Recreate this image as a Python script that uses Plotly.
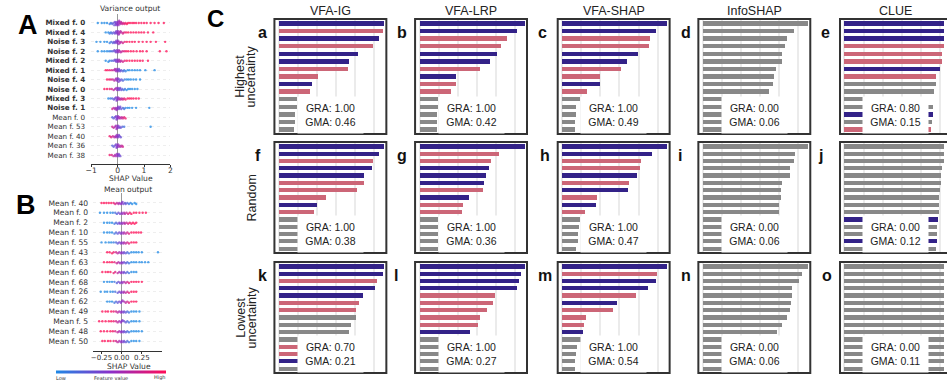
import plotly.graph_objects as go

W, H = 947, 381
def fx(x): return x / W
def fy(y): return 1 - y / H

# ---------------- Panel A: Variance output (SHAP beeswarm) ----------------
A_labels = ["Mixed f. 0", "Mixed f. 4", "Noise f. 3", "Noise f. 2", "Mixed f. 2",
            "Mixed f. 1", "Noise f. 4", "Noise f. 0", "Mixed f. 3", "Noise f. 1",
            "Mean f. 0", "Mean f. 53", "Mean f. 40", "Mean f. 36", "Mean f. 38"]
A_shap = [
    [-0.75, -0.6, -0.5, -0.4, -0.3, -0.25, -0.2, -0.16, -0.12, -0.1, -0.08, -0.06, -0.04, -0.02, 0.0, 0.01, 0.03, 0.05, 0.06, 0.08, 0.1, 0.13, 0.15, 0.18, 0.22, 0.26, 0.3, 0.35, 0.4, 0.47, 0.55, 0.62, 0.7, 0.8, 0.9, 1.0, 1.1, 1.25, 1.4, 1.55, 1.75],
    [-0.45, -0.35, -0.3, -0.25, -0.2, -0.15, -0.1, -0.07, -0.05, -0.02, 0.0, 0.02, 0.04, 0.06, 0.08, 0.11, 0.15, 0.2, 0.25, 0.32, 0.4, 0.5, 0.6, 0.7, 0.8, 0.9, 1.0, 1.15, 1.35],
    [-0.8, -0.65, -0.5, -0.4, -0.3, -0.24, -0.18, -0.14, -0.1, -0.07, -0.05, -0.02, 0.0, 0.02, 0.04, 0.07, 0.1, 0.14, 0.2, 0.27, 0.35, 0.45, 0.55, 0.65, 0.8, 0.95, 1.1, 1.25, 1.45, 1.8],
    [-0.75, -0.6, -0.5, -0.4, -0.32, -0.25, -0.18, -0.12, -0.09, -0.06, -0.03, 0.0, 0.02, 0.05, 0.08, 0.12, 0.18, 0.25, 0.32, 0.4, 0.5, 0.6, 0.72, 0.85, 0.95, 1.1, 1.6, 1.85],
    [-0.45, -0.35, -0.3, -0.22, -0.15, -0.1, -0.08, -0.05, -0.03, 0.0, 0.02, 0.05, 0.07, 0.1, 0.14, 0.2, 0.27, 0.35, 0.45, 0.55, 0.65, 0.75, 0.85, 0.95, 1.15],
    [-0.45, -0.38, -0.3, -0.22, -0.15, -0.1, -0.08, -0.05, -0.03, 0.0, 0.02, 0.05, 0.07, 0.1, 0.14, 0.2, 0.25, 0.3, 0.38, 0.45, 0.55, 0.65, 0.75, 0.85, 1.05, 1.4],
    [-0.4, -0.32, -0.25, -0.18, -0.12, -0.08, -0.05, -0.02, 0.0, 0.02, 0.04, 0.07, 0.1, 0.15, 0.2, 0.27, 0.35, 0.42, 0.5, 0.6, 0.7, 0.85],
    [-0.5, -0.4, -0.3, -0.22, -0.15, -0.1, -0.05, -0.02, 0.0, 0.02, 0.05, 0.08, 0.1, 0.14, 0.18, 0.23, 0.28, 0.34, 0.4, 0.47, 0.55, 0.65, 0.75],
    [-0.35, -0.27, -0.2, -0.14, -0.1, -0.06, -0.04, -0.02, 0.0, 0.02, 0.05, 0.08, 0.12, 0.16, 0.2, 0.25, 0.3, 0.38, 0.45, 0.52, 0.6, 0.7, 0.8],
    [-0.2, -0.15, -0.1, -0.07, -0.04, -0.02, 0.0, 0.02, 0.05, 0.08, 0.1, 0.14, 0.2, 0.25, 0.3, 0.38, 0.45, 0.55, 0.7, 1.2],
    [-0.2, -0.15, -0.1, -0.06, -0.04, -0.02, 0.0, 0.02, 0.05, 0.08, 0.12, 0.16, 0.2, 0.25, 0.3],
    [-0.2, -0.15, -0.1, -0.06, -0.04, -0.02, 0.0, 0.02, 0.05, 0.08, 0.12, 0.18, 0.25, 1.25],
    [-0.3, -0.24, -0.18, -0.12, -0.08, -0.05, -0.03, 0.0, 0.02, 0.05, 0.08, 0.12],
    [-0.2, -0.15, -0.1, -0.06, -0.04, -0.02, 0.0, 0.02, 0.05, 0.08, 0.12, 0.16, 0.2],
    [-0.3, -0.22, -0.15, -0.1, -0.06, -0.03, 0.0, 0.02, 0.04, 0.07, 0.1],
]
A_sign = [1, 1, 1, 1, 1, -1, -1, -1, 1, -1, 1, -1, -1, 1, -1]

# ---------------- Panel B: Mean output ----------------
B_labels = ["Mean f. 40", "Mean f. 0", "Mean f. 2", "Mean f. 10", "Mean f. 55",
            "Mean f. 43", "Mean f. 63", "Mean f. 60", "Mean f. 68", "Mean f. 26",
            "Mean f. 62", "Mean f. 49", "Mean f. 5", "Mean f. 48", "Mean f. 50"]
B_shap = [
    [-0.25, -0.22, -0.19, -0.16, -0.13, -0.1, -0.08, -0.06, -0.04, -0.03, -0.01, 0.0, 0.01, 0.02, 0.04, 0.05, 0.07, 0.09, 0.11, 0.13, 0.16, 0.18],
    [-0.27, -0.22, -0.18, -0.14, -0.11, -0.08, -0.06, -0.04, -0.02, 0.0, 0.01, 0.03, 0.04, 0.06, 0.08, 0.1, 0.12, 0.15, 0.18, 0.22, 0.26, 0.3],
    [-0.22, -0.18, -0.15, -0.12, -0.09, -0.07, -0.05, -0.03, -0.02, 0.0, 0.01, 0.03, 0.04, 0.06, 0.08, 0.1, 0.12, 0.14, 0.16, 0.18],
    [-0.22, -0.18, -0.15, -0.12, -0.09, -0.07, -0.05, -0.03, -0.01, 0.0, 0.02, 0.03, 0.05, 0.07, 0.09, 0.12, 0.15, 0.18, 0.21, 0.24],
    [-0.25, -0.2, -0.16, -0.13, -0.1, -0.07, -0.05, -0.03, -0.01, 0.0, 0.02, 0.03, 0.05, 0.07, 0.09, 0.12, 0.15, 0.18],
    [-0.18, -0.15, -0.12, -0.1, -0.07, -0.05, -0.03, -0.01, 0.0, 0.02, 0.03, 0.05, 0.07, 0.09, 0.12, 0.15, 0.18, 0.21, 0.25, 0.45],
    [-0.22, -0.18, -0.15, -0.12, -0.09, -0.06, -0.04, -0.02, 0.0, 0.01, 0.03, 0.05, 0.07, 0.09, 0.12, 0.15, 0.18, 0.22, 0.25, 0.29, 0.33],
    [-0.24, -0.2, -0.17, -0.14, -0.1, -0.08, -0.05, -0.03, -0.01, 0.0, 0.02, 0.03, 0.05, 0.07, 0.09, 0.12, 0.15, 0.18],
    [-0.22, -0.18, -0.15, -0.12, -0.09, -0.06, -0.04, -0.02, 0.0, 0.01, 0.03, 0.05, 0.07, 0.09, 0.12, 0.15, 0.18, 0.21, 0.25],
    [-0.26, -0.21, -0.18, -0.14, -0.11, -0.08, -0.05, -0.03, -0.01, 0.0, 0.02, 0.03, 0.05, 0.07, 0.09, 0.12, 0.15, 0.18],
    [-0.18, -0.15, -0.12, -0.09, -0.07, -0.05, -0.03, -0.01, 0.0, 0.01, 0.03, 0.05, 0.07, 0.09, 0.12, 0.15, 0.18],
    [-0.24, -0.2, -0.17, -0.13, -0.1, -0.07, -0.05, -0.03, -0.01, 0.0, 0.02, 0.03, 0.05, 0.07, 0.09, 0.12, 0.15, 0.18, 0.22],
    [-0.28, -0.24, -0.2, -0.16, -0.13, -0.1, -0.07, -0.05, -0.03, -0.01, 0.0, 0.01, 0.03, 0.05, 0.07, 0.09, 0.12, 0.15, 0.18, 0.22],
    [-0.26, -0.22, -0.18, -0.14, -0.11, -0.08, -0.05, -0.03, -0.01, 0.0, 0.02, 0.03, 0.05, 0.07, 0.09, 0.12, 0.15, 0.18, 0.21, 0.25],
    [-0.24, -0.21, -0.17, -0.14, -0.1, -0.07, -0.05, -0.03, -0.01, 0.0, 0.02, 0.03, 0.05, 0.07, 0.09, 0.12, 0.15, 0.18, 0.22],
]
B_sign = [-1, 1, 1, 1, 1, -1, -1, -1, 1, 1, 1, -1, -1, -1, -1]

# ---------------- Panel C: attribution bar charts ----------------
C_methods = ["VFA-IG", "VFA-LRP", "VFA-SHAP", "InfoSHAP", "CLUE"]
C_letters = ["a", "b", "c", "d", "e", "f", "g", "h", "i", "j", "k", "l", "m", "n", "o"]
C_values = [
    [1.0, 0.99, 0.95, 0.90, 0.755, 0.67, 0.66, 0.37, 0.32, 0.30, 0.17, 0.17, 0.15, 0.15, 0.14],
    [1.0, 0.93, 0.83, 0.78, 0.74, 0.67, 0.58, 0.35, 0.35, 0.30, 0.18, 0.18, 0.17, 0.17, 0.17],
    [1.0, 0.89, 0.84, 0.83, 0.72, 0.62, 0.56, 0.36, 0.36, 0.24, 0.17, 0.13, 0.13, 0.12, 0.12],
    [1.0, 0.87, 0.80, 0.78, 0.75, 0.75, 0.70, 0.68, 0.67, 0.63, 0.62, 0.61, 0.60, 0.59, 0.58],
    [1.0, 1.0, 0.99, 0.98, 0.93, 0.93, 0.91, 0.87, 0.87, 0.855, 0.80, 0.845, 0.84, 0.83, 0.82],
    [1.0, 0.955, 0.90, 0.885, 0.81, 0.81, 0.74, 0.45, 0.365, 0.33, 0.19, 0.19, 0.19, 0.19, 0.19],
    [1.0, 0.76, 0.68, 0.66, 0.63, 0.61, 0.60, 0.47, 0.41, 0.40, 0.18, 0.18, 0.18, 0.18, 0.18],
    [1.0, 0.855, 0.755, 0.745, 0.715, 0.64, 0.63, 0.33, 0.32, 0.22, 0.17, 0.16, 0.15, 0.15, 0.13],
    [1.0, 0.88, 0.87, 0.83, 0.83, 0.75, 0.74, 0.74, 0.73, 0.73, 0.65, 0.64, 0.63, 0.62, 0.61],
    [1.0, 1.0, 0.99, 0.93, 0.915, 0.915, 0.91, 0.90, 0.90, 0.90, 0.89, 0.88, 0.88, 0.88, 0.87],
    [1.0, 0.99, 0.93, 0.92, 0.80, 0.76, 0.73, 0.73, 0.685, 0.67, 0.62, 0.60, 0.58, 0.56, 0.55],
    [1.0, 0.97, 0.95, 0.93, 0.72, 0.70, 0.64, 0.575, 0.56, 0.48, 0.19, 0.19, 0.19, 0.19, 0.19],
    [1.0, 0.90, 0.89, 0.82, 0.70, 0.52, 0.48, 0.23, 0.21, 0.195, 0.18, 0.14, 0.13, 0.125, 0.12],
    [1.0, 0.94, 0.92, 0.85, 0.85, 0.84, 0.83, 0.80, 0.755, 0.71, 0.68, 0.66, 0.65, 0.64, 0.63],
    [1.0, 1.0, 0.99, 0.99, 0.98, 0.98, 0.98, 0.97, 0.97, 0.97, 0.96, 0.96, 0.96, 0.95, 0.95],
]
C_kinds = [
    "bpbpbbppbpggggg", "bbppbbpbppggggg", "bbppbbppbpggggg", "ggggggggggggggg", "bbbpppbpggggbgp",
    "bbpbbpppbpggggg", "bppbbbpbppggggg", "bbppbpbpbpggggg", "ggggggggggggggg", "ggggggggggbggbg",
    "bbpbbppggggppbg", "bbbbpppppbggggg", "bpbbpbpppbggggg", "ggggggggggggggg", "ggggggggggggggg",
]
C_gra = ["1.00", "1.00", "1.00", "0.00", "0.80", "1.00", "1.00", "1.00", "0.00", "0.00",
         "0.70", "1.00", "1.00", "0.00", "0.00"]
C_gma = ["0.46", "0.42", "0.49", "0.06", "0.15", "0.38", "0.36", "0.47", "0.06", "0.12",
         "0.21", "0.27", "0.54", "0.06", "0.11"]

KIND_COLOR = {"b": "#332288", "p": "#CC6677", "g": "#888888"}
SHAP_SCALE = [[0.0, "#1E88E5"], [0.5, "#8B2FC9"], [1.0, "#FF0D57"]]
SANS = "Liberation Sans, Arial, sans-serif"
DJ = "DejaVu Sans, sans-serif"


def swarm(xs, ppu, rowpx, d=1.8, step=1.1):
    """Beeswarm vertical layout (in row units) computed from x positions."""
    order = sorted(range(len(xs)), key=lambda i: abs(xs[i]))
    placed, off = [], [0.0] * len(xs)
    for i in order:
        p = xs[i] * ppu
        kk = 0
        for k in (0, 1, -1, 2, -2, 3, -3):
            if all(l != k or abs(p - q) >= d for q, l in placed):
                kk = k
                break
        placed.append((p, kk))
        off[i] = kk * step / rowpx
    return off


fig = go.Figure()
layout = {}
annotations = []
shapes = []


def beeswarm(axn, shap, signs, ppu, rowpx, scale):
    xs, ys, cs = [], [], []
    for r, (vals, s) in enumerate(zip(shap, signs)):
        off = swarm(vals, ppu, rowpx)
        for v, o in zip(vals, off):
            xs.append(v)
            ys.append(r + o)
            cs.append(max(-1.0, min(1.0, s * v / scale)))
    sfx = "" if axn == 1 else str(axn)
    fig.add_trace(go.Scatter(
        x=xs, y=ys, mode="markers", xaxis="x" + sfx, yaxis="y" + sfx,
        marker=dict(size=2.4, color=cs, coloraxis="coloraxis", opacity=0.75, line=dict(width=0)),
        showlegend=False, hoverinfo="skip"))


# Panel A
A_ppu = 80 / 3.0
beeswarm(1, A_shap, A_sign, A_ppu, 9.43, 0.35)
A_ticktext = [("<b>%s</b>" % l) if not l.startswith("Mean") else l for l in A_labels]
layout["xaxis"] = dict(domain=[fx(86), fx(166)], range=[-1, 2], tickvals=[-1, 0, 1, 2],
                       ticktext=["\u22121", "0", "1", "2"], showline=True, linecolor="#333",
                       linewidth=1, ticks="outside", ticklen=2, tickcolor="#333", tickangle=0,
                       tickfont=dict(family=DJ, size=7.6, color="#333"), showgrid=False,
                       zeroline=True, zerolinecolor="#999", zerolinewidth=1, anchor="y",
                       ticklabelstandoff=-3)
layout["yaxis"] = dict(domain=[fy(164), fy(14)], range=[14.95, -0.95], tickvals=list(range(15)),
                       ticktext=A_ticktext, tickfont=dict(family=DJ, size=7.2, color="#333"),
                       showline=False, ticks="", showgrid=True, gridcolor="#eeeeee", griddash="dot",
                       gridwidth=1, zeroline=False, ticklabelstandoff=5, anchor="x")

# Panel B
B_ppu = 81.4
beeswarm(2, B_shap, B_sign, B_ppu, 9.86, 0.12)
layout["xaxis2"] = dict(domain=[fx(88), fx(157)], range=[-0.354, 0.494], tickvals=[-0.25, 0, 0.25],
                        ticktext=["\u22120.25", "0.00", "0.25"], showline=True, linecolor="#333",
                        linewidth=1, ticks="outside", ticklen=2, tickcolor="#333", tickangle=0,
                        tickfont=dict(family=DJ, size=7.0, color="#333"), showgrid=False,
                        zeroline=True, zerolinecolor="#999", zerolinewidth=1, anchor="y2",
                        ticklabelstandoff=-2)
layout["yaxis2"] = dict(domain=[fy(351), fy(193)], range=[15.01, -1.01], tickvals=list(range(15)),
                        ticktext=B_labels, tickfont=dict(family=DJ, size=7.6, color="#333"),
                        showline=False, ticks="", showgrid=True, gridcolor="#eeeeee", griddash="dot",
                        gridwidth=1, zeroline=False, ticklabelstandoff=4, anchor="x2")

layout["coloraxis"] = dict(colorscale=SHAP_SCALE, cmin=-1, cmax=1,
                           colorbar=dict(orientation="h", x=fx(106), xanchor="center", y=fy(372),
                                         yanchor="middle", len=110, lenmode="pixels", thickness=3,
                                         showticklabels=False, ticks="", outlinewidth=0,
                                         xpad=0, ypad=0))

for txt, x, y, sz in [("Variance output", 125.5, 9, 7.6), ("SHAP Value", 126, 178, 7.6),
                      ("Mean output", 123, 189, 7.6), ("SHAP Value", 124, 366, 7.6),
                      ("Low", 56, 377.5, 5), ("Feature value", 106, 377.5, 5), ("High", 155, 377.5, 5)]:
    annotations.append(dict(x=fx(x), y=fy(y), xref="paper", yref="paper", text=txt, showarrow=False,
                            xanchor="center", yanchor="middle",
                            font=dict(family=DJ, size=sz, color="#333")))

# Panel C
col_left = [271, 413, 557, 699, 842]
row_box = [(19, 134), (142, 253), (262, 373)]
BW = 113
PPU = 106.0
letter_pos = [(259, 32), (400, 32), (542, 32), (687, 32), (827, 32),
              (254, 155), (400, 155), (544, 155), (680, 155), (822, 155),
              (259, 275), (394, 275), (544, 275), (687, 275), (829, 275)]

for p in range(15):
    r, c = divmod(p, 5)
    axn = 3 + p
    left = col_left[c]
    top, bot = row_box[r]
    right = min(left + BW, W)
    x0 = -4.5 / PPU
    x1 = x0 + (right - left) / PPU
    fig.add_trace(go.Bar(
        x=C_values[p], y=list(range(15)), orientation="h", width=0.58,
        marker=dict(color=[KIND_COLOR[k] for k in C_kinds[p]], line=dict(width=0)),
        xaxis="x%d" % axn, yaxis="y%d" % axn, showlegend=False, hoverinfo="skip"))
    layout["xaxis%d" % axn] = dict(domain=[fx(left), fx(right)], range=[x0, x1], showgrid=True,
                                   gridcolor="#ebebeb", gridwidth=2, tick0=0, dtick=0.182,
                                   showticklabels=False, ticks="", zeroline=False, showline=False,
                                   anchor="y%d" % axn)
    layout["yaxis%d" % axn] = dict(domain=[fy(bot), fy(top)], range=[14.6, -0.6], showgrid=False,
                                   showticklabels=False, ticks="", zeroline=False, showline=False,
                                   anchor="x%d" % axn)
    shapes.append(dict(type="rect", xref="paper", yref="paper", x0=fx(left), x1=fx(left + BW),
                       y0=fy(bot), y1=fy(top), line=dict(color="#333", width=2), layer="above"))
    annotations.append(dict(x=fx(left + BW / 2), y=fy(bot - 19), xref="paper", yref="paper",
                            text="GRA: %s<br>GMA: %s" % (C_gra[p], C_gma[p]), showarrow=False,
                            bgcolor="white", width=65, height=36, borderpad=0,
                            xanchor="center", yanchor="middle", align="center",
                            font=dict(family=SANS, size=10.5, color="#222")))
    lx, ly = letter_pos[p]
    annotations.append(dict(x=fx(lx), y=fy(ly), xref="paper", yref="paper",
                            text="<b>%s</b>" % C_letters[p], showarrow=False,
                            xanchor="center", yanchor="middle",
                            font=dict(family=SANS, size=16, color="#111")))

for c, m in enumerate(C_methods):
    annotations.append(dict(x=fx(col_left[c] + BW / 2), y=fy(11), xref="paper", yref="paper",
                            text=m, showarrow=False, xanchor="center", yanchor="middle",
                            font=dict(family=SANS, size=12.5, color="#222")))

# Row labels
row_label_lines = [("Highest", "uncertainty"), ("Random",), ("Lowest", "uncertainty")]
for r, lines in enumerate(row_label_lines):
    cy = (row_box[r][0] + row_box[r][1]) / 2
    xs = [248.3] if len(lines) == 1 else [236.5, 248.3]
    for t, x in zip(lines, xs):
        annotations.append(dict(x=fx(x), y=fy(cy), xref="paper", yref="paper", text=t,
                                showarrow=False, textangle=-90, xanchor="center", yanchor="middle",
                                font=dict(family=SANS, size=12.5, color="#222")))

# Big panel letters
for t, x, y, sz in [("A", 22, 25, 27), ("B", 20, 205, 27), ("C", 212, 18, 24)]:
    annotations.append(dict(x=fx(x), y=fy(y), xref="paper", yref="paper", text="<b>%s</b>" % t,
                            showarrow=False, xanchor="center", yanchor="middle",
                            font=dict(family=SANS, size=sz, color="#000")))

layout.update(dict(width=W, height=H, autosize=False, margin=dict(l=0, r=0, t=0, b=0, pad=0),
                   paper_bgcolor="white", plot_bgcolor="white", annotations=annotations,
                   shapes=shapes, showlegend=False, bargap=0))
fig.update_layout(**layout)
fig.write_html("out.html", config={"displayModeBar": False, "staticPlot": True},
               post_script="document.body.style.margin='0';document.body.style.overflow='hidden';")
